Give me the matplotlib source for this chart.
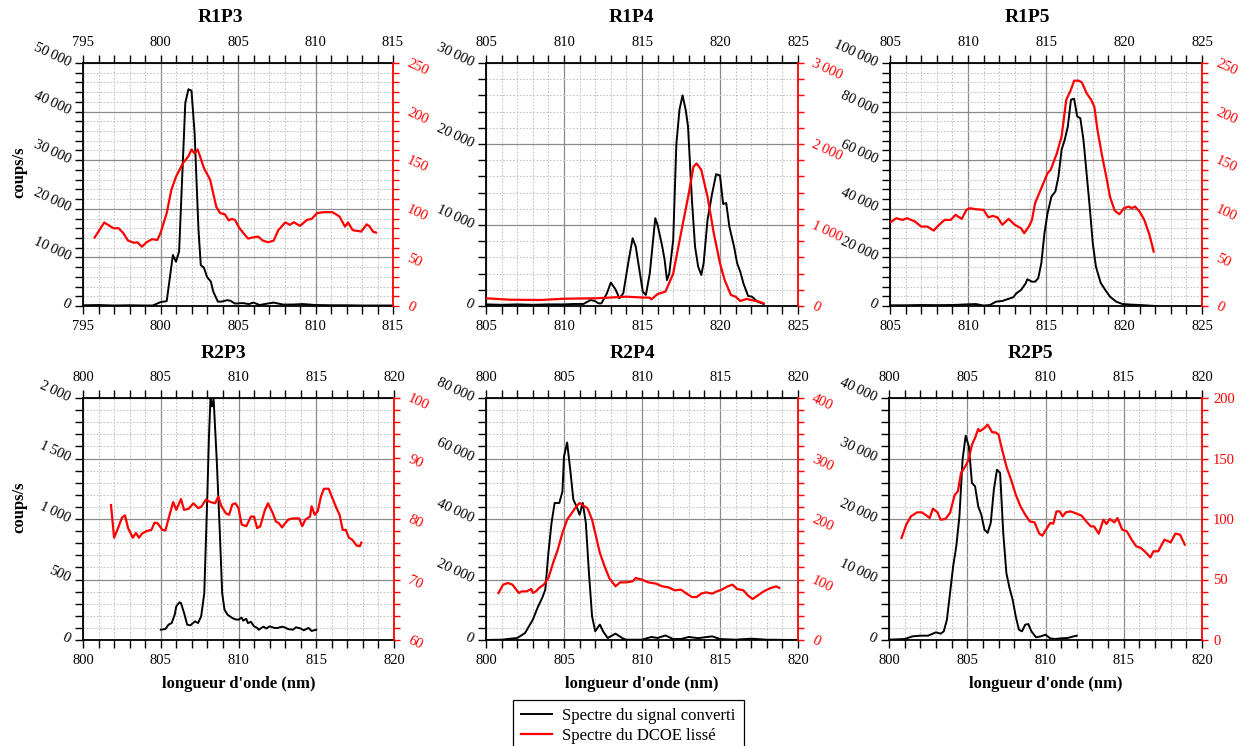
import numpy as np
import matplotlib
matplotlib.use("Agg")
import matplotlib.pyplot as plt
from matplotlib.ticker import MultipleLocator, FuncFormatter
from matplotlib.lines import Line2D

plt.rcParams['font.family'] = ['Liberation Serif', 'DejaVu Serif']

# ---------------- data ----------------
# R1P3
r1p3_xb = [795, 796, 797, 798, 799, 799.5, 800.0, 800.4, 800.8, 801.0, 801.2, 801.6, 801.8, 802.0, 802.2,
           802.45, 802.6, 802.8, 803.0, 803.25, 803.4, 803.7, 803.95, 804.3, 804.5, 804.8, 805.3, 805.7,
           806.0, 806.4, 806.9, 807.3, 807.9, 808.5, 809.2, 810, 811, 812, 813, 814, 815]
r1p3_yb = [150, 200, 100, 150, 100, 100, 800, 1000, 10500, 9100, 11200, 41800, 44600, 44300, 35600,
           15700, 8400, 7900, 6000, 5000, 3000, 900, 900, 1200, 1100, 500, 600, 400,
           700, 200, 500, 700, 300, 300, 400, 200, 150, 150, 100, 100, 100]
r1p3_xr = [795.75, 796.37, 796.97, 797.3, 797.6, 797.9, 798.3, 798.5, 798.8, 799.1, 799.45, 799.8, 800.0,
           800.4, 800.7, 801.0, 801.45, 801.8, 802.0, 802.2, 802.4, 802.8, 803.2, 803.6, 803.85, 804.15,
           804.4, 804.6, 804.8, 805.1, 805.35, 805.65, 806.0, 806.3, 806.6, 806.95, 807.3, 807.6, 808.05,
           808.35, 808.6, 809.0, 809.45, 809.75, 810.1, 810.5, 811.1, 811.55, 811.9, 812.1, 812.4, 812.8,
           812.95, 813.3, 813.5, 813.7, 813.9]
r1p3_yr = [70.4, 85.9, 80, 80, 75, 67.3, 65, 65.6, 61, 65.6, 68.7, 68, 75,
           95.5, 119.5, 133, 147, 154, 161, 157, 161, 142, 130, 102, 95.5, 94.4,
           88, 89.6, 88.6, 80, 75, 69.4, 70.7, 71.4, 67.3, 65.6, 67.3, 78, 86,
           83.5, 86.2, 82.4, 88.6, 89.6, 95.5, 96.5, 96.5, 92, 81.7, 86, 78, 77,
           76.6, 84, 81.7, 76.6, 75.5]

# R1P4
r1p4_xb = [805, 806, 807, 808, 809, 810, 810.6, 811.25, 811.7, 812.0, 812.2, 812.4, 812.75, 813.0, 813.3,
           813.55, 813.8, 814.15, 814.4, 814.6, 814.85, 815.05, 815.25, 815.5, 815.85, 816.0, 816.3,
           816.45, 816.6, 816.75, 817.0, 817.2, 817.4, 817.6, 817.8, 817.95, 818.2, 818.4, 818.6, 818.8,
           818.95, 819.2, 819.5, 819.75, 820.0, 820.2, 820.4, 820.6, 820.9, 821.1, 821.3, 821.5, 821.8,
           822.05, 822.4, 822.8]
r1p4_yb = [200, 150, 200, 150, 200, 200, 250, 250, 740, 600, 330, 330, 1560, 2900, 2060,
           950, 1560, 5700, 8360, 7330, 4240, 1770, 1360, 4040, 10840, 10000, 7330,
           5700, 3200, 4040, 8160, 19900, 24230, 26000, 24230, 22170, 13100, 7330, 4860, 3830,
           5270, 10630, 13930, 16280, 16100, 12600, 12700, 9800, 7330, 5270, 4240, 2800, 1240,
           1150, 540, 250]
r1p4_xr = [805, 806.5, 808.5, 810, 812, 814, 815, 815.5, 815.6, 816, 816.5, 817, 817.5, 818, 818.3, 818.5,
           818.8, 819.2, 819.6, 820.0, 820.3, 820.7, 821.0, 821.3, 821.7, 822.0, 822.5, 822.8]
r1p4_yr = [95, 78, 74, 90, 95, 115, 105, 103, 82, 148, 177, 400, 900, 1390, 1720, 1760,
           1680, 1350, 900, 527, 320, 136, 115, 62, 87, 74, 54, 33]

# R1P5
r1p5_xb = [805, 806, 807, 808, 809, 810, 810.5, 811, 811.4, 811.8, 812.2, 812.5, 812.9, 813.1, 813.4, 813.7,
           813.8, 814.1, 814.3, 814.5, 814.7, 814.9, 815.1, 815.35, 815.6, 815.8, 816.0, 816.2, 816.4,
           816.6, 816.8, 817.0, 817.2, 817.4, 817.6, 817.8, 818.0, 818.2, 818.5, 818.8, 819.1, 819.5,
           819.9, 820.5, 821, 822]
r1p5_yb = [275, 300, 400, 350, 400, 690, 800, 200, 400, 1800, 2060, 2750, 3570, 5220, 6600, 9340,
           11000, 10000, 10000, 11400, 17580, 29950, 38200, 45050, 47100, 53300, 64300, 68400, 73900,
           84900, 85300, 78000, 77300, 68400, 54700, 40900, 25800, 16200, 9600, 6600, 3850, 1790,
           820, 550, 410, 0]
r1p5_xr = [805, 805.4, 805.8, 806.1, 806.6, 807, 807.4, 807.8, 808.1, 808.5, 808.9, 809.2, 809.6, 809.9,
           810.1, 810.5, 811, 811.3, 811.6, 811.9, 812.2, 812.6, 813, 813.4, 813.6, 813.9, 814.1, 814.3,
           814.7, 815.1, 815.3, 815.7, 816.0, 816.3, 816.6, 816.8, 817.1, 817.3, 817.6, 817.9, 818.1,
           818.3, 818.6, 818.9, 819.1, 819.4, 819.7, 820.0, 820.3, 820.5, 820.7, 821.0, 821.3, 821.6,
           821.8, 821.9]
r1p5_yr = [85.9, 90.3, 88.6, 90.3, 86.9, 81.7, 81.7, 77.6, 82.8, 88.6, 88.6, 93.8, 89.6, 98.9,
           100.6, 99.6, 98.9, 91.3, 92.7, 91.0, 83.5, 89.6, 83.5, 80, 74.9, 81.7, 88.6, 105.8,
           121.2, 136.7, 140.1, 157.3, 174.5, 212.2, 222.5, 231.8, 231.8, 230, 219, 212, 205,
           181, 154, 130, 112.6, 98.2, 94.4, 100.6, 102.3, 100.6, 102.3, 97.2, 88.6, 74.9,
           62.8, 56]

# R2P3
r2p3_xb = [805, 805.3, 805.5, 805.7, 805.9, 806.0, 806.2, 806.3, 806.5, 806.7, 806.9, 807.2, 807.4, 807.6,
           807.8, 808.0, 808.1, 808.2, 808.3, 808.4, 808.6, 808.8, 808.95, 809.1, 809.3, 809.6, 809.8,
           810.0, 810.2, 810.3, 810.5, 810.6, 810.8, 811.0, 811.2, 811.3, 811.6, 811.8, 812.0, 812.3,
           812.5, 812.8, 813.0, 813.2, 813.5, 813.7, 814.0, 814.2, 814.5, 814.7, 815.0]
r2p3_yb = [85, 91, 127, 140, 210, 278, 311, 306, 223, 127, 121, 154, 140, 196,
           388, 1215, 1683, 2000, 1931, 1992, 1490, 884, 388, 250, 209, 182, 170,
           168, 185, 160, 175, 140, 150, 113, 100, 85, 110, 95, 113, 100,
           99, 110, 103, 90, 85, 105, 95, 80, 100, 75, 85]
r2p3_xr = [801.8, 802.0, 802.3, 802.5, 802.7, 802.9, 803.2, 803.4, 803.6, 803.8, 804.1, 804.4, 804.6, 804.8,
           805.1, 805.3, 805.6, 805.8, 806.0, 806.3, 806.5, 806.8, 807.1, 807.4, 807.6, 807.9, 808.2,
           808.5, 808.7, 808.9, 809.2, 809.4, 809.6, 809.8, 810.0, 810.2, 810.5, 810.8, 811.0, 811.2,
           811.4, 811.7, 811.9, 812.2, 812.4, 812.6, 812.8, 813.0, 813.2, 813.5, 813.9, 814.1, 814.3,
           814.6, 814.7, 814.9, 815.1, 815.3, 815.5, 815.8, 816.0, 816.3, 816.5, 816.7, 816.9, 817.1,
           817.3, 817.6, 817.8, 817.9]
r2p3_yr = [82.3, 76.9, 78.8, 80.2, 80.6, 78.5, 76.9, 77.7, 76.9, 77.6, 78.0, 78.2, 79.4, 79.3,
           78.2, 78.1, 81.0, 82.8, 81.5, 83.3, 81.5, 81.7, 82.6, 81.8, 82.0, 83.2, 82.8,
           82.6, 83.7, 82.1, 80.9, 80.7, 82.4, 82.6, 81.8, 79.1, 78.8, 80.4, 80.4, 78.5,
           78.8, 81.5, 82.6, 81.0, 79.6, 79.3, 78.6, 79.3, 79.9, 80.1, 80.1, 78.8, 79.9,
           80.4, 82.1, 80.7, 81.3, 83.7, 85.0, 85.0, 83.7, 81.8, 80.7, 78.2, 78.2, 76.9,
           76.6, 75.6, 75.5, 76.1]

# R2P4
r2p4_xb = [800, 801, 802, 802.5, 803, 803.3, 803.6, 803.8, 804.0, 804.2, 804.4, 804.7, 804.9, 805.0, 805.2,
           805.4, 805.6, 805.8, 806.0, 806.2, 806.4, 806.6, 806.8, 807.0, 807.3, 807.5, 807.8, 808.3,
           808.8, 809, 810, 810.6, 811, 811.5, 812, 812.5, 813, 813.6, 814, 814.5, 815, 816, 817, 818, 820]
r2p4_yb = [0, 100, 660, 2300, 6700, 10600, 13900, 16600, 28800, 38700, 45300, 45300, 49100, 60700, 65300,
           56300, 46400, 44200, 41400, 45300, 38700, 22100, 7800, 2900, 5100, 2900, 660, 2100,
           440, 100, 100, 1000, 660, 1500, 330, 330, 1000, 600, 880, 1200, 330, 100, 440, 100, 0]
r2p4_xr = [800.8, 801.1, 801.4, 801.7, 802.1, 802.3, 802.6, 802.9, 803.0, 803.2, 803.4, 803.7, 804.0, 804.3,
           804.6, 804.9, 805.2, 805.5, 805.8, 806.0, 806.3, 806.5, 806.8, 807.0, 807.3, 807.6, 807.9,
           808.3, 808.6, 809.0, 809.4, 809.6, 810.0, 810.4, 810.9, 811.3, 811.7, 812.1, 812.5, 812.8,
           813.2, 813.5, 813.8, 814.1, 814.5, 814.8, 815.1, 815.5, 815.8, 816.1, 816.5, 816.8, 817.1,
           817.5, 817.8, 818.2, 818.6, 818.8]
r2p4_yr = [77.7, 91.5, 94.2, 91.5, 77.7, 80.4, 80.4, 84.3, 77.7, 80.4, 86, 91.5, 102.5, 127.3,
           149.3, 176.9, 198.9, 210, 221, 226.5, 221, 218.2, 198.9, 177, 143.8, 121.8, 102.5,
           88.7, 95.3, 95.3, 97, 102.5, 99.7, 95.3, 93.1, 88.7, 87, 82.1, 83.2, 77.7,
           71, 71, 76.6, 78.8, 76.6, 80.4, 83.2, 88.7, 91.5, 84.3, 82.1, 73.3, 67.8,
           75, 80.4, 85.4, 88.7, 86]

# R2P5
r2p5_xb = [800, 801, 801.5, 802, 802.5, 803, 803.3, 803.5, 803.7, 803.9, 804.1, 804.3, 804.5, 804.7, 804.9,
           805.1, 805.3, 805.5, 805.7, 805.9, 806.1, 806.3, 806.5, 806.7, 806.9, 807.1, 807.3, 807.5,
           807.7, 807.9, 808.1, 808.3, 808.5, 808.7, 808.9, 809.1, 809.4, 809.7, 810.0, 810.3, 810.6,
           811, 811.4, 811.8, 812]
r2p5_yb = [55, 165, 600, 716, 716, 1270, 1050, 1430, 3360, 7770, 12200, 15500, 20440, 29800, 33770,
           32000, 25950, 25400, 22100, 20700, 18240, 17700, 19340, 24850, 28150, 27600, 17700, 11070,
           8600, 6670, 3900, 1700, 1430, 2530, 2640, 1430, 440, 600, 880, 275, 165,
           275, 330, 600, 716]
r2p5_xr = [800.8, 801.1, 801.4, 801.8, 802.1, 802.4, 802.6, 802.8, 803.1, 803.3, 803.6, 803.9, 804.2, 804.4,
           804.6, 804.9, 805.1, 805.3, 805.5, 805.7, 805.8, 806.1, 806.3, 806.6, 806.8, 807.0, 807.2,
           807.5, 807.8, 808.1, 808.4, 808.7, 809.0, 809.3, 809.6, 809.8, 810.1, 810.3, 810.5, 810.7,
           810.9, 811.1, 811.3, 811.6, 812.0, 812.3, 812.6, 812.9, 813.1, 813.4, 813.7, 813.9, 814.1,
           814.4, 814.6, 814.9, 815.2, 815.5, 815.8, 816.1, 816.4, 816.7, 816.9, 817.2, 817.6, 818.0,
           818.3, 818.6, 818.9]
r2p5_yr = [84.3, 95.3, 102.2, 105.5, 105.5, 102.8, 100.8, 108.5, 105.5, 99.4, 100, 105, 120, 122.8,
           138, 144, 149.6, 161.4, 167, 174.4, 172.5, 175.2, 178, 171.6, 171.6, 169.7, 158.7,
           143.5, 132.5, 120.1, 110.5, 103.6, 98, 97.2, 87.9, 86.2, 92.6, 96.7, 96.2, 106.3,
           106.3, 102.2, 105.5, 106.3, 104.4, 102.8, 98, 93.9, 93.9, 87.9, 99.4, 95.9, 100,
           97.2, 100.8, 91.2, 89.8, 82.9, 77.4, 76, 72.5, 68.3, 73.3, 73.3, 82.9, 80.7,
           87.9, 87, 78.8]

titles = ["R1P3", "R1P4", "R1P5", "R2P3", "R2P4", "R2P5"]
legend_labels = ["Spectre du signal converti", "Spectre du DCOE lissé"]
ylabel_text = "coups/s"
xlabel_text = "longueur d'onde (nm)"

W, H = 1240, 746
fig = plt.figure(figsize=(W / 100, H / 100), dpi=100)

RED = '#ff0000'
TICKFS = 10.5


def fmt(v, pos=None):
    return f"{int(round(v)):,}".replace(',', '\u2009')


def panel(px_left, px_right, px_top, px_bottom, title, title_cx, title_cy,
          xlim, yl, ylmaj, ylmin, yr_, yrmaj, yrmin,
          xb, yb, xr, yr, ylabel=False, xlabel=False, right_rot=True):
    rect = [px_left / W, 1 - px_bottom / H, (px_right - px_left) / W, (px_bottom - px_top) / H]
    ax = fig.add_axes(rect)
    ax.set_xlim(*xlim)
    ax.set_ylim(*yl)
    ax.xaxis.set_major_locator(MultipleLocator(5))
    ax.xaxis.set_minor_locator(MultipleLocator(1))
    ax.set_yticks(np.arange(yl[0], yl[1] + ylmaj / 2, ylmaj))
    ax.yaxis.set_minor_locator(MultipleLocator(ylmin))
    ax.yaxis.set_major_formatter(FuncFormatter(fmt))
    ax.grid(which='major', color='#8a8a8a', lw=0.9, ls='-')
    ax.grid(which='minor', color='#c4c4c4', lw=0.8, ls=(0, (1.5, 1.5)))
    ax.set_axisbelow(True)
    ax.tick_params(axis='x', which='both', direction='out', top=True, bottom=True,
                   labeltop=True, labelbottom=True, length=5.5, width=1.0,
                   labelsize=TICKFS, pad=4.8)
    ax.tick_params(axis='y', which='both', direction='out', left=True, right=False,
                   length=5.5, width=1.0, labelsize=TICKFS, pad=4)
    for lab in ax.get_yticklabels():
        lab.set_rotation(-25)
        lab.set_rotation_mode('anchor')
        lab.set_ha('right')
        lab.set_va('center')
    for s in ['left', 'top', 'bottom']:
        ax.spines[s].set_linewidth(1.3)
        ax.spines[s].set_color('black')
    ax.spines['right'].set_visible(False)
    ax.plot(xb, yb, color='black', lw=1.4, zorder=3)

    ax2 = ax.twinx()
    ax2.set_ylim(*yr_)
    ax2.set_yticks(np.arange(yr_[0], yr_[1] + yrmaj / 2, yrmaj))
    ax2.yaxis.set_minor_locator(MultipleLocator(yrmin))
    ax2.yaxis.set_major_formatter(FuncFormatter(fmt))
    ax2.tick_params(axis='y', which='both', direction='out', color=RED, labelcolor=RED,
                    length=4.5, width=1.0, labelsize=TICKFS,
                    pad=6 if right_rot else 3.5)
    for s in ['left', 'top', 'bottom']:
        ax2.spines[s].set_visible(False)
    ax2.spines['right'].set_color(RED)
    ax2.spines['right'].set_linewidth(1.3)
    if right_rot:
        for lab in ax2.get_yticklabels():
            lab.set_rotation(-25)
            lab.set_rotation_mode('anchor')
            lab.set_ha('left')
            lab.set_va('center')
    ax2.plot(xr, yr, color=RED, lw=1.6, zorder=4)

    fig.text(title_cx / W, 1 - title_cy / H, title, ha='center', va='center',
             fontsize=14, fontweight='bold')
    if ylabel:
        ax.set_ylabel(ylabel_text, fontsize=12, fontweight='bold')
        ax.yaxis.set_label_coords((27 - px_left) / (px_right - px_left), 0.55)
    if xlabel:
        ax.set_xlabel(xlabel_text, fontsize=12, fontweight='bold')
        ax.xaxis.set_label_coords(0.5, -(676 - px_bottom) / (px_bottom - px_top))
    return ax, ax2


T1, B1 = 63, 306
T2, B2 = 398, 640

panel(83, 393, T1, B1, titles[0], 220, 17, (795, 815), (0, 50000), 10000, 2000, (0, 250), 50, 10,
      r1p3_xb, r1p3_yb, r1p3_xr, r1p3_yr, ylabel=True)
panel(486, 798, T1, B1, titles[1], 631, 17, (805, 825), (0, 30000), 10000, 2000, (0, 3000), 1000, 200,
      r1p4_xb, r1p4_yb, r1p4_xr, r1p4_yr)
panel(890, 1202, T1, B1, titles[2], 1027, 17, (805, 825), (0, 100000), 20000, 4000, (0, 250), 50, 10,
      r1p5_xb, r1p5_yb, r1p5_xr, r1p5_yr)
panel(83, 394, T2, B2, titles[3], 223, 353, (800, 820), (0, 2000), 500, 100, (60, 100), 10, 2,
      r2p3_xb, r2p3_yb, r2p3_xr, r2p3_yr, ylabel=True, xlabel=True)
panel(486, 798, T2, B2, titles[4], 632, 353, (800, 820), (0, 80000), 20000, 4000, (0, 400), 100, 20,
      r2p4_xb, r2p4_yb, r2p4_xr, r2p4_yr, xlabel=True)
panel(889, 1202, T2, B2, titles[5], 1030, 353, (800, 820), (0, 40000), 10000, 2000, (0, 200), 50, 10,
      r2p5_xb, r2p5_yb, r2p5_xr, r2p5_yr, xlabel=True, right_rot=False)

handles = [Line2D([], [], color='black', lw=1.4), Line2D([], [], color=RED, lw=1.6)]
leg = fig.legend(handles, legend_labels, loc='upper left', bbox_to_anchor=(513 / W, 1 - 700 / H),
                 frameon=True, fancybox=False, edgecolor='black', framealpha=1, fontsize=12,
                 handlelength=1.85, borderpad=0.5, labelspacing=0.2, borderaxespad=0,
                 handletextpad=0.6)
leg.get_frame().set_linewidth(0.9)

fig.savefig('out.png', dpi=100)
